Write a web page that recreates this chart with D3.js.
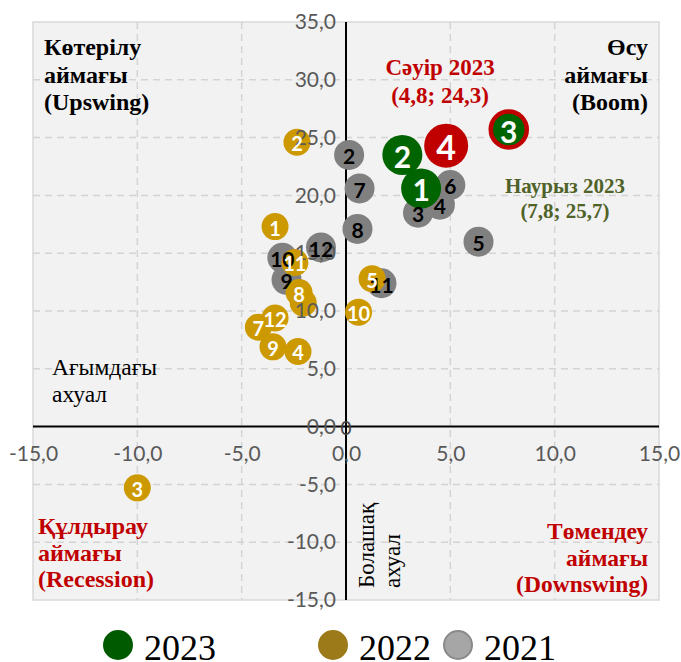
<!DOCTYPE html>
<html>
<head>
<meta charset="utf-8">
<script src="https://cdn.jsdelivr.net/npm/d3@7"></script>
<style>
  body { margin: 0; background: #fff; }
  svg { display: block; }
</style>
</head>
<body>
<div id="chart"></div>
<script>
// ---- data ----
var ticksX = [-15, -10, -5, 0, 5, 10, 15];
var ticksY = [-15, -10, -5, 0, 5, 10, 15, 20, 25, 30, 35];

// 2021 months
var labels2021 = ["2", "3", "4", "5", "6", "7", "8", "9", "10", "11", "12"];
var x2021 = [0.15, 3.45, 4.5, 6.35, 5.0, 0.65, 0.55, -2.85, -3.05, 1.7, -1.2];
var y2021 = [23.5, 18.5, 19.2, 16.0, 20.9, 20.6, 17.1, 12.7, 14.6, 12.4, 15.5];

// 2022 months (6 is hidden under the cluster, no visible label)
var labels2022 = ["1", "2", "3", "4", "5", "", "7", "8", "9", "10", "11", "12"];
var x2022 = [-3.4, -2.35, -10.0, -2.3, 1.25, -2.05, -4.2, -2.25, -3.5, 0.6, -2.45, -3.4];
var y2022 = [17.3, 24.6, -5.3, 6.5, 12.8, 10.7, 8.6, 11.6, 6.9, 9.9, 14.2, 9.4];

// 2023 months
var labels2023 = ["1", "2", "3"];
var x2023 = [3.6, 2.7, 7.8];
var y2023 = [20.6, 23.5, 25.7];

// April 2023 (current point)
var labelsApr = ["4"];
var xApr = [4.8];
var yApr = [24.3];

var legendYears = ["2023", "2022", "2021"];

// ---- layout ----
var W = 681, H = 662;
var svg = d3.select("#chart").append("svg")
    .attr("width", W)
    .attr("height", H);

var x = d3.scaleLinear().domain([-15, 15]).range([33, 659]);
var y = d3.scaleLinear().domain([-15, 35]).range([600, 22]);

var fmt = function(d) { return d3.format(".1f")(d).replace(".", ",").replace("\u2212", "-"); };

function zip(labels, xs, ys) {
  return labels.map(function(l, i) { return { label: l, x: xs[i], y: ys[i] }; });
}
var d2021 = zip(labels2021, x2021, y2021);
var d2022 = zip(labels2022, x2022, y2022);
var d2023 = zip(labels2023, x2023, y2023);
var dApr = zip(labelsApr, xApr, yApr);

// plot background
svg.append("rect")
   .attr("x", x(-15)).attr("y", y(35))
   .attr("width", x(15) - x(-15)).attr("height", y(-15) - y(35))
   .attr("fill", "#f2f2f2")
   .attr("stroke", "#d9d9d9")
   .attr("stroke-width", 1.5);

// dashed grid
svg.append("g").selectAll("line")
   .data(ticksX.filter(function(d) { return d !== 0 && Math.abs(d) !== 15; }))
   .join("line")
   .attr("x1", function(d) { return x(d); }).attr("x2", function(d) { return x(d); })
   .attr("y1", y(35)).attr("y2", y(-15))
   .attr("stroke", "#d4d4d4").attr("stroke-width", 1.5)
   .attr("stroke-dasharray", "7,5");

svg.append("g").selectAll("line")
   .data(ticksY.filter(function(d) { return d !== 0 && d !== 35 && d !== -15; }))
   .join("line")
   .attr("y1", function(d) { return y(d); }).attr("y2", function(d) { return y(d); })
   .attr("x1", x(-15)).attr("x2", x(15))
   .attr("stroke", "#d4d4d4").attr("stroke-width", 1.5)
   .attr("stroke-dasharray", "7,5");

// axis lines (under the markers)
svg.append("line")
   .attr("x1", x(-15)).attr("x2", x(15)).attr("y1", y(0)).attr("y2", y(0))
   .attr("stroke", "#000").attr("stroke-width", 2);
svg.append("line")
   .attr("x1", x(0)).attr("x2", x(0)).attr("y1", y(35)).attr("y2", y(-15))
   .attr("stroke", "#000").attr("stroke-width", 2);

// markers
var mark = svg.append("g");
mark.selectAll("circle.y2021").data(d2021).join("circle")
    .attr("class", "y2021")
    .attr("cx", function(d) { return x(d.x); })
    .attr("cy", function(d) { return y(d.y); })
    .attr("r", 15)
    .attr("fill", "#808080");

mark.selectAll("circle.y2022").data(d2022).join("circle")
    .attr("class", "y2022")
    .attr("cx", function(d) { return x(d.x); })
    .attr("cy", function(d) { return y(d.y); })
    .attr("r", 13.5)
    .attr("fill", "#cc9900");

mark.selectAll("circle.y2023").data(d2023).join("circle")
    .attr("class", "y2023")
    .attr("cx", function(d) { return x(d.x); })
    .attr("cy", function(d) { return y(d.y); })
    .attr("r", function(d) { return d.label === "3" ? 18 : 20; })
    .attr("fill", "#006400")
    .attr("stroke", function(d) { return d.label === "3" ? "#c00000" : "none"; })
    .attr("stroke-width", 4.5);

mark.selectAll("circle.apr").data(dApr).join("circle")
    .attr("class", "apr")
    .attr("cx", function(d) { return x(d.x); })
    .attr("cy", function(d) { return y(d.y); })
    .attr("r", 22)
    .attr("fill", "#c00000");

// axis tick labels, above the markers
var xAxis = d3.axisBottom(x).tickValues(ticksX).tickSize(0).tickPadding(19).tickFormat(fmt);
var yAxis = d3.axisLeft(y).tickValues(ticksY).tickSize(0).tickPadding(10).tickFormat(fmt);

var gx = svg.append("g").attr("transform", "translate(0," + y(0) + ")").call(xAxis);
var gy = svg.append("g").attr("transform", "translate(" + x(0) + ",0)").call(yAxis);
[gx, gy].forEach(function(g) {
  g.select(".domain").remove();
  g.selectAll("text")
   .attr("fill", "#595959")
   .style("font-family", "Lato, 'Open Sans', sans-serif")
   .style("font-size", "21px");
});

// data labels
var lab = svg.append("g")
    .style("font-family", "Lato, 'Open Sans', sans-serif")
    .attr("text-anchor", "middle")
    .attr("dominant-baseline", "central");

function labels(data, color, size, weight) {
  lab.append("g").selectAll("text").data(data).join("text")
     .attr("x", function(d) { return x(d.x); })
     .attr("y", function(d) { return y(d.y) + 1; })
     .attr("fill", color)
     .style("font-size", size + "px")
     .style("font-weight", weight)
     .text(function(d) { return d.label; });
}
labels(d2021, "#000", 21, 700);
labels(d2022, "#fff", 20, 700);
labels(d2023, "#fff", 30, 700);
labels(dApr, "#fff", 34, 700);

// "0" label at origin
lab.append("text")
   .attr("x", x(0)).attr("y", y(0) + 1)
   .attr("fill", "#404040")
   .style("font-size", "19px")
   .text("0");

// quadrant annotations
function note(lines, px, py, anchor, color, size, weight, lh) {
  var t = svg.append("text")
     .attr("x", px).attr("y", py)
     .attr("text-anchor", anchor)
     .attr("fill", color)
     .style("font-family", "'Liberation Serif', 'Times New Roman', serif")
     .style("font-size", size + "px")
     .style("font-weight", weight);
  lines.forEach(function(l, i) {
    t.append("tspan").attr("x", px).attr("dy", i === 0 ? 0 : lh).text(l);
  });
  return t;
}
note(["Көтерілу", "аймағы", "(Upswing)"], 44, 55, "start", "#000", 24, 700, 27.5);
note(["Өсу", "аймағы", "(Boom)"], 648, 55, "end", "#000", 24, 700, 27.5);
note(["Сәуір 2023", "(4,8; 24,3)"], 440, 75, "middle", "#c00000", 23, 700, 28);
note(["Наурыз 2023", "(7,8; 25,7)"], 565, 193, "middle", "#4f6228", 21, 700, 25);
note(["Ағымдағы", "ахуал"], 52, 375, "start", "#000", 23.5, 400, 27);
note(["Құлдырау", "аймағы", "(Recession)"], 38, 534, "start", "#c00000", 24, 700, 26.5);
note(["Төмендеу", "аймағы", "(Downswing)"], 648, 539, "end", "#c00000", 23.5, 700, 26.5);

// rotated "Болашақ ахуал"
svg.append("g")
   .attr("transform", "translate(374,588) rotate(-90)")
   .selectAll("text").data(["Болашақ", "ахуал"]).join("text")
   .attr("x", 0)
   .attr("y", function(d, i) { return i * 26; })
   .attr("text-anchor", "start")
   .style("font-family", "'Liberation Serif', 'Times New Roman', serif")
   .style("font-size", "23px")
   .text(function(d) { return d; });

// legend
var legFill = ["#005a00", "#9c7a1a", "#a6a6a6"];
var legStroke = ["#005a00", "#9c7a1a", "#8a8a8a"];
var legX = [118, 333, 458];
var leg = svg.append("g").selectAll("g").data(legendYears).join("g")
   .attr("transform", function(d, i) { return "translate(" + legX[i] + ",645)"; });
leg.append("circle")
   .attr("r", 14)
   .attr("fill", function(d, i) { return legFill[i]; })
   .attr("stroke", function(d, i) { return legStroke[i]; })
   .attr("stroke-width", 2);
leg.append("text")
   .attr("x", 26)
   .attr("y", 15)
   .style("font-family", "'Liberation Serif', 'Times New Roman', serif")
   .style("font-size", "36px")
   .text(function(d) { return d; });
</script>
</body>
</html>
